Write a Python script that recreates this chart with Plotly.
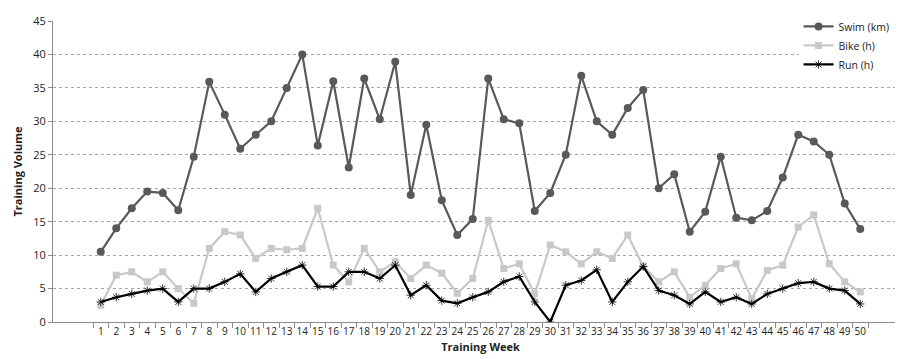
import plotly.graph_objects as go

weeks = [str(i) for i in range(1, 51)]
swim = [10.5, 14, 17, 19.5, 19.3, 16.7, 24.7, 35.9, 31, 25.9,
        28, 30, 35, 40, 26.4, 36, 23.1, 36.4, 30.3, 38.9,
        19, 29.5, 18.2, 13, 15.4, 36.4, 30.3, 29.7, 16.6, 19.3,
        25, 36.8, 30, 28, 32, 34.7, 20, 22.1, 13.5, 16.5,
        24.7, 15.6, 15.2, 16.6, 21.6, 28, 27, 25, 17.7, 13.9]
bike = [2.5, 7, 7.5, 6, 7.5, 5, 2.8, 11, 13.5, 13,
        9.5, 11, 10.8, 11, 17, 8.5, 6, 11, 7.5, 9,
        6.5, 8.5, 7.3, 4.3, 6.5, 15.2, 8, 8.7, 4.2, 11.5,
        10.5, 8.7, 10.5, 9.5, 13, 8.3, 6, 7.5, 3.7, 5.5,
        8, 8.7, 3.5, 7.7, 8.5, 14.2, 16, 8.7, 6, 4.5]
run = [3, 3.7, 4.2, 4.7, 5, 3, 5, 5, 6, 7.2,
       4.5, 6.5, 7.5, 8.5, 5.3, 5.3, 7.5, 7.5, 6.5, 8.5,
       4, 5.5, 3.2, 2.8, 3.7, 4.5, 6, 6.8, 3, 0,
       5.5, 6.2, 7.8, 3, 6, 8.3, 4.7, 4, 2.7, 4.5,
       3, 3.7, 2.7, 4.2, 5, 5.8, 6, 5, 4.7, 2.7]

font = "Open Sans, Liberation Sans, sans-serif"

fig = go.Figure()
fig.add_trace(go.Scatter(x=weeks, y=swim, name="Swim (km)", mode="lines+markers",
                         line=dict(color="#595959", width=2.2),
                         marker=dict(symbol="circle", size=8, color="#595959")))
fig.add_trace(go.Scatter(x=weeks, y=bike, name="Bike (h)", mode="lines+markers",
                         line=dict(color="#c8c8c8", width=2.2),
                         marker=dict(symbol="square", size=7, color="#c8c8c8")))
fig.add_trace(go.Scatter(x=weeks, y=run, name="Run (h)", mode="lines+markers",
                         line=dict(color="#000000", width=2.2),
                         marker=dict(symbol="asterisk-open", size=7,
                                     line=dict(color="#000000", width=0.8))))

fig.update_layout(
    width=903, height=359,
    margin=dict(l=45, r=3, t=13, b=45, autoexpand=False),
    paper_bgcolor="white", plot_bgcolor="white",
    font=dict(family=font, size=11, color="#222222"),
    showlegend=True,
    legend=dict(x=0.872, y=1.03, xanchor="left", yanchor="top",
                bgcolor="white", borderwidth=0, tracegroupgap=0, itemwidth=30,
                font=dict(size=10.5, color="#222222")),
    xaxis=dict(type="category", title=dict(text="<b>Training Week</b>", standoff=6,
                                            font=dict(size=11)),
               showline=True, linecolor="#8c8c8c", linewidth=1,
               ticks="outside", tickson="boundaries", ticklen=5, tickcolor="#8c8c8c",
               showgrid=False, tickangle=0, tickfont=dict(size=10)),
    yaxis=dict(range=[0, 45], dtick=5, title=dict(text="<b>Training Volume</b>", standoff=8,
                                                   font=dict(size=11)),
               showline=True, linecolor="#8c8c8c", linewidth=1,
               ticks="outside", ticklen=4, tickcolor="#8c8c8c",
               showgrid=True, gridcolor="#a6a6a6", griddash="dot", gridwidth=1,
               zeroline=False, tickfont=dict(size=11)),
)

fig.write_html("out.html")
